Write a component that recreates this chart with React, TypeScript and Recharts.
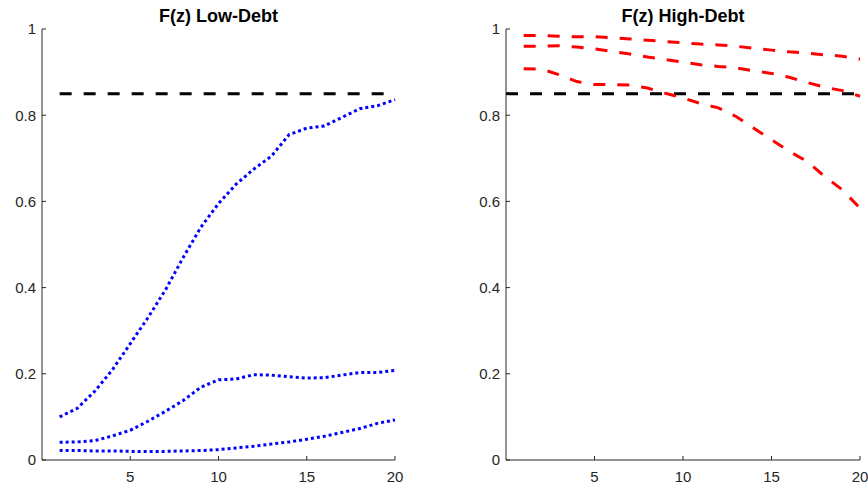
import React from 'react';
import { LineChart, Line, XAxis, YAxis, ReferenceLine } from 'recharts';

// horizon (periods)
const periods = [1, 2, 3, 4, 5, 6, 7, 8, 9, 10, 11, 12, 13, 14, 15, 16, 17, 18, 19, 20];

// F(z) low-debt bands
const lowDebtUpper = [0.10, 0.12, 0.16, 0.21, 0.27, 0.33, 0.395, 0.47, 0.54, 0.595, 0.64, 0.675, 0.705, 0.755, 0.77, 0.775, 0.795, 0.815, 0.822, 0.836];
const lowDebtMid = [0.041, 0.042, 0.045, 0.056, 0.069, 0.09, 0.113, 0.138, 0.169, 0.186, 0.188, 0.198, 0.197, 0.193, 0.19, 0.191, 0.197, 0.203, 0.203, 0.208];
const lowDebtLower = [0.022, 0.022, 0.021, 0.021, 0.02, 0.02, 0.02, 0.021, 0.022, 0.024, 0.028, 0.032, 0.037, 0.042, 0.048, 0.055, 0.064, 0.073, 0.085, 0.093];

// F(z) high-debt bands
const highDebtUpper = [0.985, 0.985, 0.983, 0.982, 0.982, 0.98, 0.977, 0.974, 0.971, 0.968, 0.965, 0.963, 0.96, 0.955, 0.951, 0.947, 0.944, 0.94, 0.937, 0.93];
const highDebtMid = [0.96, 0.96, 0.961, 0.958, 0.954, 0.948, 0.942, 0.935, 0.929, 0.923, 0.917, 0.913, 0.91, 0.903, 0.897, 0.888, 0.876, 0.865, 0.857, 0.844];
const highDebtLower = [0.908, 0.907, 0.894, 0.878, 0.871, 0.871, 0.87, 0.863, 0.851, 0.84, 0.827, 0.817, 0.797, 0.77, 0.743, 0.716, 0.693, 0.658, 0.627, 0.584];

const threshold = 0.85;
const thresholdLowX = [1, 20];
const thresholdHighX = [0, 20];

const xTicks = [5, 10, 15, 20];
const yTicks = [0, 0.2, 0.4, 0.6, 0.8, 1];

const FONT = '"Liberation Sans", Arial, Helvetica, sans-serif';
const AXIS = '#262626';

const lowData = periods.map((p, i) => ({ p, a: lowDebtUpper[i], b: lowDebtMid[i], c: lowDebtLower[i] }));
const highData = periods.map((p, i) => ({ p, a: highDebtUpper[i], b: highDebtMid[i], c: highDebtLower[i] }));

const tickStyle = { fill: AXIS, fontSize: 15, fontFamily: FONT };

function Panel({ data, color, dash, yWidth, right, refX }: {
  data: typeof lowData; color: string; dash: string; yWidth: number; right: number; refX: number[];
}) {
  return (
    <LineChart width={434} height={487} data={data} margin={{ top: 29, right, bottom: 0, left: 0 }}>
      <XAxis type="number" dataKey="p" domain={[0, 20]} ticks={xTicks} height={27}
        tick={tickStyle} tickSize={-4} tickMargin={15}
        axisLine={{ stroke: AXIS }} tickLine={{ stroke: AXIS }} />
      <YAxis type="number" domain={[0, 1]} ticks={yTicks} width={yWidth}
        tick={tickStyle} tickSize={-4} tickMargin={10}
        axisLine={{ stroke: AXIS }} tickLine={{ stroke: AXIS }} />
      <ReferenceLine segment={[{ x: refX[0], y: threshold }, { x: refX[1], y: threshold }]}
        stroke="#000" strokeWidth={3} strokeDasharray="12 12" />
      {['a', 'b', 'c'].map(k => (
        <Line key={k} dataKey={k} type="linear" stroke={color} strokeWidth={3}
          strokeDasharray={dash} dot={false} isAnimationActive={false} />
      ))}
    </LineChart>
  );
}

const titleStyle: React.CSSProperties = {
  position: 'absolute', top: 6, fontFamily: FONT, fontWeight: 'bold', fontSize: 18,
  lineHeight: '20px', color: '#000', textAlign: 'center', whiteSpace: 'nowrap',
};

export default function App() {
  return (
    <div style={{ position: 'absolute', left: 0, top: 0, width: 868, height: 487, background: '#fff' }}>
      <div style={{ position: 'absolute', left: 0, top: 0 }}>
        <Panel data={lowData} color="#0000ff" dash="3 3" yWidth={42} right={39} refX={thresholdLowX} />
      </div>
      <div style={{ position: 'absolute', left: 434, top: 0 }}>
        <Panel data={highData} color="#ff0000" dash="12 12" yWidth={72} right={8} refX={thresholdHighX} />
      </div>
      <div style={{ ...titleStyle, left: 42, width: 353 }}>F(z) Low-Debt</div>
      <div style={{ ...titleStyle, left: 506, width: 354 }}>F(z) High-Debt</div>
    </div>
  );
}
